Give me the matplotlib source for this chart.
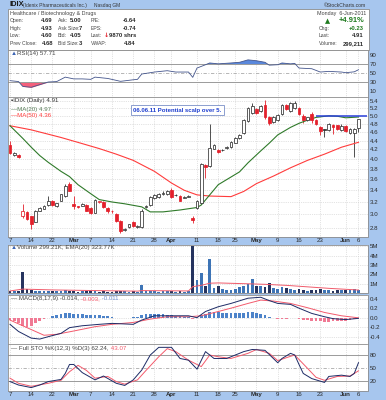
import matplotlib
matplotlib.use("Agg")
import matplotlib.pyplot as plt
from matplotlib.patches import Rectangle
from matplotlib.ticker import FixedLocator, NullLocator
import numpy as np

plt.rcParams["font.family"] = ["Liberation Sans", "DejaVu Sans"]

W, H = 386, 400
BG = "#a7c6ee"
GRID = "#c8c8c8"
RED = "#e3202b"
INK = "#2b2b2b"
NAVY = "#1d2b66"

# ---- data; day 0 = 7 Feb 2011, day 82 = 6 Jun 2011 ----
TICK_DAYS = [0, 5, 10, 15, 19, 24, 29, 34, 38, 44, 49, 53, 58, 63, 68, 73, 79, 82]
TICK_LABELS = ["7", "14", "22", "Mar", "7", "14", "21", "28", "Apr",
               "11", "18", "25", "May", "9", "16", "23", "Jun", "6"]
MONTHS = {"Mar", "Apr", "May", "Jun"}

OPEN = [4.30, 4.08, 4.09, 2.98, 3.04, 2.97, 2.89, 3.06, 3.09, 3.15,
        3.21, 3.13, 3.22, 3.30, 3.52, 3.16, 3.13, 3.14, 3.15, 3.10,
        3.03, 3.20, 3.20, 3.10, 3.06, 3.01, 2.90, 2.77, 2.81, 2.88,
        2.81, 2.81, 3.12, 3.15, 3.26, 3.28, 3.33, 3.33, 3.40, 3.31,
        3.30, 3.27, 3.29, 2.95, 3.10, 3.19, 3.87, 3.86, 4.22, 4.19,
        4.18, 4.24, 4.25, 4.35, 4.45, 4.57, 4.87, 5.07, 5.18, 5.12,
        5.30, 4.98, 4.84, 4.90, 5.04, 5.30, 5.12, 5.21, 5.21, 4.99,
        4.90, 5.04, 4.89, 4.71, 4.66, 4.64, 4.76, 4.76, 4.65, 4.75,
        4.57, 4.57, 4.69]
HIGH = [4.39, 4.15, 4.10, 3.16, 3.05, 2.98, 3.07, 3.12, 3.15, 3.30,
        3.23, 3.19, 3.34, 3.52, 3.55, 3.30, 3.14, 3.18, 3.16, 3.11,
        3.25, 3.22, 3.22, 3.11, 3.07, 3.02, 2.91, 2.80, 2.86, 2.90,
        2.84, 3.08, 3.15, 3.30, 3.33, 3.35, 3.38, 3.40, 3.44, 3.34,
        3.31, 3.30, 3.31, 2.97, 3.24, 3.92, 3.90, 4.79, 4.33, 4.22,
        4.21, 4.28, 4.38, 4.48, 4.55, 4.92, 5.23, 5.34, 5.22, 5.28,
        5.43, 5.00, 4.99, 5.04, 5.32, 5.33, 5.36, 5.40, 5.23, 5.04,
        4.98, 5.10, 4.92, 4.74, 4.67, 4.82, 4.79, 4.78, 4.80, 4.77,
        4.69, 4.70, 4.93]
LOW = [4.10, 4.06, 4.02, 2.94, 2.92, 2.78, 2.88, 3.05, 3.08, 3.14,
       3.13, 3.12, 3.21, 3.29, 3.38, 3.09, 3.10, 3.13, 3.05, 3.00,
       3.02, 3.18, 3.10, 3.03, 3.02, 2.89, 2.73, 2.76, 2.80, 2.81,
       2.80, 2.80, 3.10, 3.14, 3.25, 3.27, 3.32, 3.32, 3.27, 3.30,
       3.21, 3.26, 3.28, 2.87, 3.09, 3.17, 3.63, 3.84, 4.20, 4.12,
       4.16, 4.22, 4.24, 4.34, 4.43, 4.56, 4.85, 5.05, 5.05, 5.10,
       4.92, 4.78, 4.82, 4.88, 5.02, 5.15, 5.10, 5.19, 5.02, 4.81,
       4.88, 4.81, 4.76, 4.52, 4.49, 4.62, 4.55, 4.64, 4.63, 4.60,
       4.55, 4.03, 4.60]
CLOSE = [4.12, 4.13, 4.04, 3.05, 2.93, 2.85, 3.06, 3.10, 3.14, 3.21,
         3.15, 3.18, 3.33, 3.47, 3.39, 3.13, 3.12, 3.17, 3.06, 3.02,
         3.24, 3.21, 3.11, 3.06, 3.05, 2.90, 2.76, 2.78, 2.85, 2.82,
         2.83, 3.06, 3.13, 3.29, 3.32, 3.33, 3.36, 3.38, 3.28, 3.32,
         3.22, 3.28, 3.30, 2.92, 3.22, 3.89, 3.83, 4.23, 4.30, 4.14,
         4.19, 4.25, 4.37, 4.46, 4.53, 4.90, 5.21, 5.25, 5.07, 5.25,
         4.98, 4.81, 4.97, 5.02, 5.30, 5.17, 5.34, 5.34, 5.04, 4.90,
         4.96, 4.90, 4.79, 4.63, 4.64, 4.80, 4.72, 4.66, 4.75, 4.62,
         4.67, 4.68, 4.91]

MA20_DAYS = [0, 3, 5, 7, 9, 12, 14, 16, 19, 21, 24, 27, 31, 33, 36, 40, 44, 45,
             47, 49, 54, 56, 59, 61, 63, 66, 68, 70, 72, 75, 77, 79, 82]
MA20_VALS = [4.75, 4.45, 4.25, 4.07, 3.93, 3.75, 3.65, 3.50, 3.34, 3.24, 3.20,
             3.17, 3.12, 3.04, 3.04, 3.07, 3.11, 3.15, 3.32, 3.50, 3.74, 3.92,
             4.17, 4.34, 4.53, 4.71, 4.81, 4.89, 4.96, 5.00, 4.99, 4.95, 4.97]
MA50_DAYS = [0, 5, 12, 17, 21, 25, 29, 34, 38, 41, 44, 47, 52, 55, 58, 62, 66,
             70, 74, 78, 82]
MA50_VALS = [4.75, 4.65, 4.47, 4.33, 4.22, 4.10, 3.97, 3.75, 3.53, 3.40, 3.32,
             3.30, 3.29, 3.38, 3.52, 3.66, 3.82, 3.97, 4.10, 4.25, 4.36]
SCALP_LEVEL = 5.0
SCALP_FROM = 72

RSI_DAYS = [0, 2, 3, 5, 7, 9, 11, 13, 15, 17, 19, 20, 23, 26, 29, 30, 31, 34, 37,
            39, 42, 43, 44, 46, 47, 49, 52, 54, 56, 58, 60, 61, 63, 64, 66, 67,
            68, 71, 73, 75, 78, 79, 81, 82]
RSI_VALS = [33, 31, 20, 18, 24, 30, 31, 41, 37, 37, 36, 41, 38, 31.5, 35, 36, 48,
            52.5, 55.5, 52.5, 52.5, 40.5, 61.5, 69, 73, 71, 73, 74.5, 80, 78,
            74.5, 68, 69, 73, 71, 72, 61.5, 60, 52.5, 54, 52.5, 51, 53, 57.7]

VOLUME_M = [0.25, 0.20, 0.22, 2.30, 0.38, 0.28, 0.22, 0.20, 0.18, 0.25,
            0.20, 0.18, 0.22, 0.30, 0.25, 0.20, 0.15, 0.18, 0.20, 0.22,
            0.25, 0.15, 0.20, 0.12, 0.15, 0.20, 0.25, 0.18, 0.15, 0.20,
            0.15, 0.88, 0.20, 0.25, 0.18, 0.15, 0.20, 0.20, 0.22, 0.15,
            0.20, 0.15, 0.18, 5.00, 1.35, 2.10, 0.80, 3.60, 0.55, 0.70,
            0.45, 0.35, 0.30, 0.45, 0.60, 0.70, 1.00, 1.45, 0.80, 0.70,
            0.60, 1.10, 0.50, 0.40, 0.60, 0.50, 0.45, 0.35, 0.40, 0.30,
            0.25, 0.35, 0.30, 0.40, 0.35, 0.30, 0.25, 0.30, 0.35, 0.30,
            0.28, 0.40, 0.30]
VOL_EMA_DAYS = [0, 3, 10, 20, 30, 31, 42, 43, 45, 47, 49, 55, 60, 65, 70, 75, 82]
VOL_EMA_VALS = [0.22, 0.42, 0.33, 0.26, 0.20, 0.26, 0.22, 0.68, 0.82, 1.05,
                1.08, 1.00, 0.93, 0.82, 0.66, 0.50, 0.32]

MACD_DAYS = [0, 2, 5, 7, 9, 12, 14, 17, 21, 24, 29, 31, 34, 38, 42, 44, 46, 49,
             52, 56, 59, 61, 63, 66, 68, 71, 74, 76, 79, 82]
MACD_VALS = [-0.14, -0.29, -0.43, -0.45, -0.40, -0.33, -0.21, -0.17, -0.14,
             -0.12, -0.14, -0.05, 0.04, 0.04, 0.04, 0.00, 0.13, 0.23, 0.30,
             0.41, 0.43, 0.36, 0.30, 0.28, 0.20, 0.09, 0.02, -0.02, -0.04,
             -0.014]
SIGNAL_DAYS = [0, 4, 8, 11, 15, 20, 24, 29, 33, 37, 42, 45, 49, 52, 56, 59, 62,
               66, 70, 74, 78, 82]
SIGNAL_VALS = [-0.05, -0.21, -0.37, -0.35, -0.28, -0.19, -0.14, -0.10, -0.03,
               0.02, 0.02, 0.04, 0.13, 0.20, 0.30, 0.37, 0.35, 0.30, 0.21,
               0.11, 0.04, -0.003]
HIST = [-0.05, -0.08, -0.12, -0.17, -0.20, -0.17, -0.12, -0.07, -0.03, 0.00,
        0.03, 0.06, 0.08, 0.10, 0.10, 0.08, 0.07, 0.07, 0.06, 0.06,
        0.06, 0.05, 0.04, 0.03, 0.01, 0.00, -0.01, 0.00, 0.00, 0.01,
        0.02, 0.05, 0.07, 0.08, 0.08, 0.07, 0.07, 0.06, 0.05, 0.04,
        0.03, 0.02, 0.01, -0.02, 0.00, 0.06, 0.08, 0.11, 0.12, 0.11,
        0.10, 0.10, 0.10, 0.10, 0.10, 0.10, 0.11, 0.11, 0.09, 0.08,
        0.05, 0.02, -0.01, -0.02, -0.02, -0.02, -0.01, -0.01, -0.02, -0.04,
        -0.05, -0.06, -0.07, -0.08, -0.09, -0.09, -0.08, -0.08, -0.07, -0.07,
        -0.05, -0.03, -0.011]

STO_K_DAYS = [0, 2, 5, 7, 9, 12, 13, 14, 15, 17, 20, 22, 25, 27, 29, 31, 33, 35,
              38, 40, 42, 44, 46, 48, 51, 53, 55, 57, 60, 63, 64, 66, 67, 68,
              69, 71, 74, 75, 78, 80, 81, 82]
STO_K_VALS = [18, 10, 4, 10, 18, 23, 37, 58, 58, 39, 22, 31, 14, 9, 22, 45, 80,
              98, 98, 72, 68, 47, 88, 72, 72, 80, 88, 93, 91, 62, 72, 84, 80,
              58, 37, 25, 16, 30, 33, 30, 37, 62.2]
STO_D_DAYS = [0, 2, 5, 9, 12, 14, 16, 18, 20, 23, 25, 27, 30, 32, 35, 37, 39,
              42, 45, 47, 49, 52, 56, 58, 61, 63, 66, 67, 70, 72, 74, 77, 80, 82]
STO_D_VALS = [26, 14, 7, 14, 21, 41, 56, 44, 26, 30, 18, 12, 22, 44, 76, 95, 88,
              68, 53, 80, 76, 72, 84, 93, 84, 67, 77, 80, 49, 28, 21, 30, 31,
              43.1]

QUOTE_ROWS = [
    [("Open:", "4.69"), ("Ask:", "5.00"), ("P/E:", "-6.64")],
    [("High:", "4.93"), ("Ask Size:", "7"), ("EPS:", "-0.74")],
    [("Low:", "4.60"), ("Bid:", "4.05"), ("Last:", "9870 shrs")],
    [("Prev Close:", "4.68"), ("Bid Size:", "3"), ("VWAP:", "4.84")],
]
QUOTE_RIGHT = [("Chg:", "+0.23"), ("Last:", "4.91"), ("Volume:", "299,211")]

# ---------------- layout helpers (pixel coordinates, top-left origin) ----------------
fig = plt.figure(figsize=(W / 100, H / 100), dpi=100, facecolor=BG)
XL, XR = 8, 367.5
XLIM = ((XL - 10) / 4.25, (XR - 10) / 4.25)


def panel(y0, y1, x0=XL, x1=XR):
    return fig.add_axes([x0 / W, 1 - y1 / H, (x1 - x0) / W, (y1 - y0) / H])


def ftext(x, y, s, **kw):
    kw.setdefault("fontsize", 3.7)
    kw.setdefault("va", "center")
    kw.setdefault("color", INK)
    return fig.text(x / W, 1 - y / H, s, **kw)


def style(ax, ylim, yticks, ylabels, xlabels=False):
    ax.set_xlim(XLIM)
    ax.set_ylim(ylim)
    ax.set_facecolor("white")
    ax.yaxis.tick_right()
    ax.yaxis.set_major_locator(FixedLocator(yticks))
    ax.yaxis.set_minor_locator(NullLocator())
    ax.set_yticklabels(ylabels)
    ax.tick_params(axis="y", length=0, pad=1.5, labelsize=4.4, colors=INK)
    ax.set_xticks(TICK_DAYS)
    ax.tick_params(axis="x", length=0, pad=0.8, labelsize=4.4, colors=INK,
                   labelbottom=xlabels)
    if xlabels:
        ax.set_xticklabels(TICK_LABELS)
        for t in ax.get_xticklabels():
            if t.get_text() in MONTHS:
                t.set_fontweight("bold")
    ax.grid(True, color=GRID, ls=":", lw=0.5)
    ax.set_axisbelow(True)
    for s in ax.spines.values():
        s.set_color("#8c8c8c")
        s.set_linewidth(0.6)


def legend(ax, parts, y=0.95):
    t = ax.text(0.008, y, parts[0][0], transform=ax.transAxes, fontsize=4.4,
                color=parts[0][1], va="top", ha="left")
    for s, c in parts[1:]:
        t = ax.annotate(s, xy=(1, 0), xycoords=t, va="bottom", ha="left",
                        fontsize=4.4, color=c)


days = np.arange(len(CLOSE))
o, h, l, c = (np.array(v) for v in (OPEN, HIGH, LOW, CLOSE))
prev_close = np.r_[o[0], c[:-1]]
down = c < prev_close

# ---------------- header ----------------
ftext(9, 5, "IDIX", fontsize=5.4, fontweight="bold", color="#1a1a1a")
ftext(23, 5.3, "(Idenix Pharmaceuticals Inc.)", fontsize=3.5, color="#333")
ftext(94, 5.3, "Nasdaq GM", fontsize=3.5, color="#333")
ftext(366, 5.3, "\u00a9StockCharts.com", fontsize=3.6, color="#333", ha="right")

fig.add_artist(Rectangle((7.5 / W, 1 - 50 / H), 361.5 / W, 40.5 / H,
                         transform=fig.transFigure, fc="white", ec="#8c8c8c", lw=0.6))
ftext(10, 14, "Healthcare / Biotechnology & Drugs", color="#444", fontsize=3.9)
ftext(366, 14, "Monday  6-Jun-2011", ha="right", color="#444", fontsize=3.9)
col_label_x = [10, 57.5, 91]
col_value_x = [53, 82, 136]
for r, row in enumerate(QUOTE_ROWS):
    y = 20.7 + 7.55 * r
    for (lab, val), lx, vx in zip(row, col_label_x, col_value_x):
        ftext(lx, y, lab, color="#444")
        ftext(vx, y, val, ha="right", fontweight="bold", fontsize=4.2)
ftext(104, 20.7 + 7.55 * 2, "\u2193", color=RED, fontweight="bold", fontsize=4.6,
      family="DejaVu Sans")

ftext(325, 20.7, "\u25b2", color="#1e7a1e", fontsize=4.8, family="DejaVu Sans")
ftext(364, 20.7, "+4.91%", ha="right", color="#1e7a1e", fontweight="bold", fontsize=5.4)
for r, (lab, val) in enumerate(QUOTE_RIGHT):
    y = 28.2 + 7.55 * r
    ftext(319, y, lab, color="#444")
    ftext(364, y, val, ha="right", fontweight="bold", fontsize=4.2,
          color="#1e7a1e" if val.startswith("+") else INK)

# ---------------- RSI ----------------
ax = panel(50, 97)
style(ax, (-3.9, 102.3), [90, 70, 50, 30, 10], ["90", "70", "50", "30", "10"])
ax.grid(False, axis="y")
ax.axhline(70, color="#9a9a9a", lw=0.7)
ax.axhline(30, color="#9a9a9a", lw=0.7)
ax.axhline(50, color="#aaaaaa", lw=0.6, ls=(0, (4, 2, 1, 2)))
rx = np.array(RSI_DAYS, float)
ry = np.array(RSI_VALS, float)
ax.fill_between(rx, ry, 30, where=ry < 30, interpolate=True, color="#f4607c", lw=0)
ax.fill_between(rx, ry, 70, where=ry > 70, interpolate=True, color="#5a88dc", lw=0)
ax.plot(rx, ry, color="#44558c", lw=0.6)
legend(ax, [("\u25b2", "#3c64b4"), ("RSI(14) 57.71", "#444")], y=0.985)

# ---------------- price ----------------
ax = panel(97, 237)
ax.set_yscale("log")
price_ticks = [2.8, 3.0, 3.2, 3.4, 3.6, 3.8, 4.0, 4.2, 4.4, 4.6, 4.8, 5.0, 5.2, 5.4]
style(ax, (2.669, 5.513), price_ticks, ["%.1f" % v for v in price_ticks], xlabels=True)
cols = np.where(down, RED, "#333333")
ax.vlines(days, l, h, colors=cols, lw=0.6)
body = np.maximum(np.abs(c - o), 0.006)
ax.bar(days, body, bottom=np.minimum(o, c), width=0.62,
       color=np.where(c >= o, "white", cols), edgecolor=cols, linewidth=0.55, zorder=3)
ax.plot(MA50_DAYS, MA50_VALS, color="#ff3c3c", lw=0.8, zorder=2)
ax.plot(MA20_DAYS, MA20_VALS, color="#2f7a2a", lw=0.8, zorder=2)
ax.hlines(SCALP_LEVEL, SCALP_FROM, XLIM[1], color="#2a3fd8", lw=1.1, zorder=4)
ax.text(0.349, 0.907, "06.06.11 Potential scalp over 5.", transform=ax.transAxes,
        fontsize=4.3, color="#1f3fcf", fontweight="bold", va="center", ha="left",
        bbox=dict(boxstyle="square,pad=0.35", fc="white", ec="#7a8fc8", lw=0.6))
legend(ax, [("\u25aaIDIX (Daily) 4.91", "#333")], y=0.99)
ax.text(0.008, 0.93, "\u2014MA(20) 4.97", transform=ax.transAxes, fontsize=4.4,
        color="#557a55", va="top")
ax.text(0.008, 0.885, "\u2014MA(50) 4.36", transform=ax.transAxes, fontsize=4.4,
        color="#ff3c3c", va="top")

# ---------------- volume ----------------
ax = panel(244.5, 293)
style(ax, (0, 5.2), [1, 2, 3, 4, 5], ["1M", "2M", "3M", "4M", "5M"])
ax.bar(days, VOLUME_M, width=0.7, color=np.where(down, "#26345f", "#3d74b6"), zorder=2)
ax.plot(VOL_EMA_DAYS, VOL_EMA_VALS, color="#f05a6a", lw=0.7, zorder=3)
legend(ax, [("\u25b2", "#3c64b4"), ("Volume 299.21K, EMA(20) 323.77K", "#444")], y=0.985)

# ---------------- MACD ----------------
ax = panel(294.5, 344)
style(ax, (-0.554, 0.488), [0.4, 0.2, 0.0, -0.2, -0.4],
      ["0.4", "0.2", "0.0", "-0.2", "-0.4"])
hist = np.array(HIST)
ax.bar(days, hist, width=0.7, color=np.where(hist >= 0, "#4d83c9", "#f07a94"), zorder=2)
ax.plot(SIGNAL_DAYS, SIGNAL_VALS, color="#f35a6c", lw=0.7, zorder=3)
ax.plot(MACD_DAYS, MACD_VALS, color=NAVY, lw=0.7, zorder=4)
legend(ax, [("\u2014 MACD(8,17,9) -0.014,", "#444"), (" -0.003,", "#f35a6c"),
            (" -0.011", "#6f8fd0")], y=0.97)

# ---------------- Full stochastics ----------------
ax = panel(344, 391)
style(ax, (-4.0, 105.8), [80, 50, 20], ["80", "50", "20"], xlabels=True)
ax.grid(False, axis="y")
ax.axhline(80, color="#9a9a9a", lw=0.7)
ax.axhline(20, color="#9a9a9a", lw=0.7)
ax.axhline(50, color="#aaaaaa", lw=0.6, ls=(0, (4, 2, 1, 2)))
ax.plot(STO_D_DAYS, STO_D_VALS, color="#f35a6c", lw=0.7)
ax.plot(STO_K_DAYS, STO_K_VALS, color=NAVY, lw=0.7)
legend(ax, [("\u2014 Full STO %K(12,3) %D(3) 62.24,", "#444"), (" 43.07", "#f35a6c")],
       y=0.95)

fig.savefig("out.png", dpi=100, facecolor=BG)
